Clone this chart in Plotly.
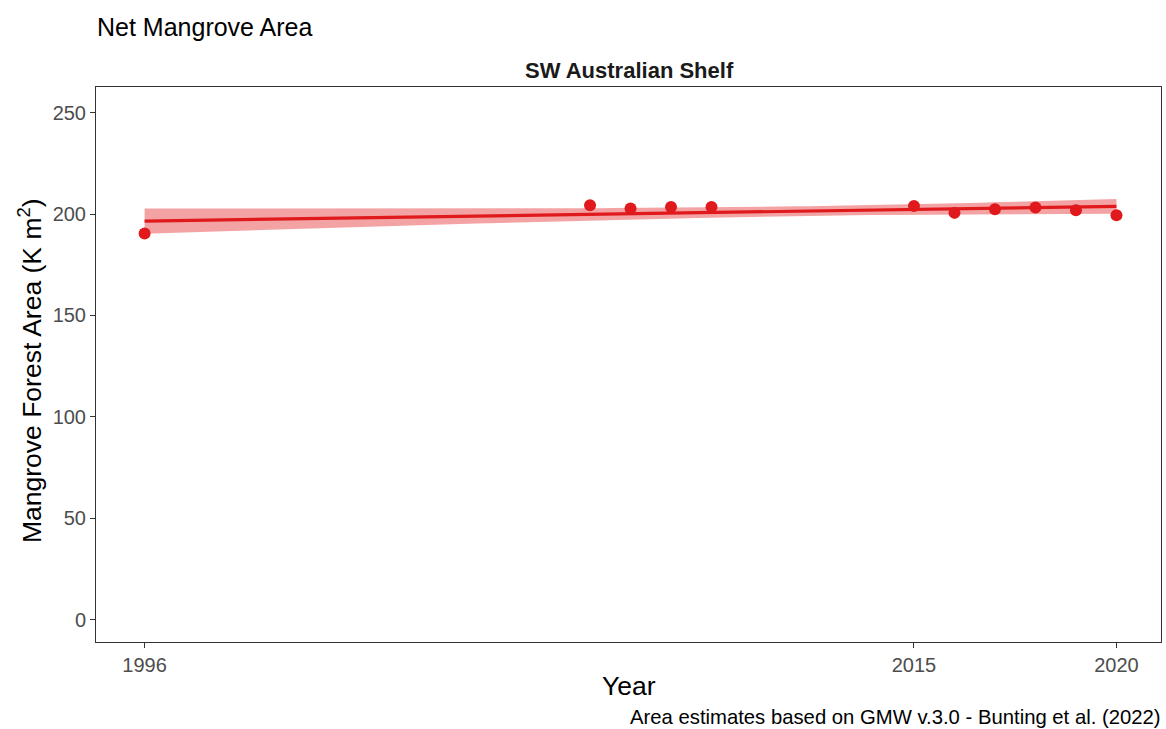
import numpy as np
import plotly.graph_objects as go

years = [1996, 2007, 2008, 2009, 2010, 2015, 2016, 2017, 2018, 2019, 2020]
area = [190.4, 204.4, 202.8, 203.5, 203.5, 204.0, 200.6, 202.4, 203.3, 201.9, 199.4]
x_ticks = [1996, 2015, 2020]
y_ticks = [0, 50, 100, 150, 200, 250]

RED = "#E0191C"
FONT = "Liberation Sans, Arial, sans-serif"

# linear model fit with 95% confidence band (as ggplot geom_smooth(method="lm"))
x = np.array(years, dtype=float)
y = np.array(area, dtype=float)
n = len(x)
slope, intercept = np.polyfit(x, y, 1)
resid = y - (slope * x + intercept)
s = np.sqrt(np.sum(resid ** 2) / (n - 2))
t_crit = 2.262  # t(0.975, df=9)
xg = np.linspace(x.min(), x.max(), 80)
yg = slope * xg + intercept
se = s * np.sqrt(1.0 / n + (xg - x.mean()) ** 2 / np.sum((x - x.mean()) ** 2))
lo = yg - t_crit * se
hi = yg + t_crit * se

fig = go.Figure()
fig.add_trace(go.Scatter(
    x=np.concatenate([xg, xg[::-1]]), y=np.concatenate([hi, lo[::-1]]),
    fill="toself", fillcolor="rgba(224,25,28,0.4)", line=dict(width=0),
    hoverinfo="skip", showlegend=False))
fig.add_trace(go.Scatter(x=xg, y=yg, mode="lines",
                         line=dict(color=RED, width=3.2), showlegend=False))
fig.add_trace(go.Scatter(x=years, y=area, mode="markers",
                         marker=dict(color=RED, size=12), showlegend=False))

axis_common = dict(showgrid=False, zeroline=False, showline=True, mirror=True,
                   linecolor="#333333", linewidth=1, ticks="outside", ticklen=5,
                   tickcolor="#333333", tickwidth=1,
                   tickfont=dict(family=FONT, size=20, color="#4D4D4D"))

fig.update_layout(
    width=1166, height=729,
    margin=dict(l=96, r=5, t=87, b=87),
    paper_bgcolor="white", plot_bgcolor="white",
    font=dict(family=FONT),
    xaxis=dict(range=[1994.8, 2021.1], tickvals=x_ticks,
               ticktext=[str(v) for v in x_ticks], **axis_common),
    yaxis=dict(range=[-11.1, 262.7], tickvals=y_ticks, **axis_common),
    annotations=[
        dict(text="Net Mangrove Area", xref="paper", yref="paper", x=-0.001, y=1.108,
             xanchor="left", yanchor="middle", showarrow=False,
             font=dict(family=FONT, size=25, color="black")),
        dict(text="<b>SW Australian Shelf</b>", xref="paper", yref="paper", x=0.5005, y=1.0306,
             xanchor="center", yanchor="middle", showarrow=False,
             font=dict(family=FONT, size=22, color="#1A1A1A")),
        dict(text="Year", xref="paper", yref="paper", x=0.5, y=-0.079,
             xanchor="center", yanchor="middle", showarrow=False,
             font=dict(family=FONT, size=26.5, color="black")),
        dict(text="Mangrove Forest Area (K m<sup>2</sup>)", xref="paper", yref="paper",
             x=-0.062, y=0.49, textangle=-90, xanchor="center", yanchor="middle",
             showarrow=False, font=dict(family=FONT, size=26.5, color="black")),
        dict(text="Area estimates based on GMW v.3.0 - Bunting et al. (2022)",
             xref="paper", yref="paper", x=1.0019, y=-0.135,
             xanchor="right", yanchor="middle", showarrow=False,
             font=dict(family=FONT, size=20.3, color="black")),
    ],
)

fig.write_html("out.html")
